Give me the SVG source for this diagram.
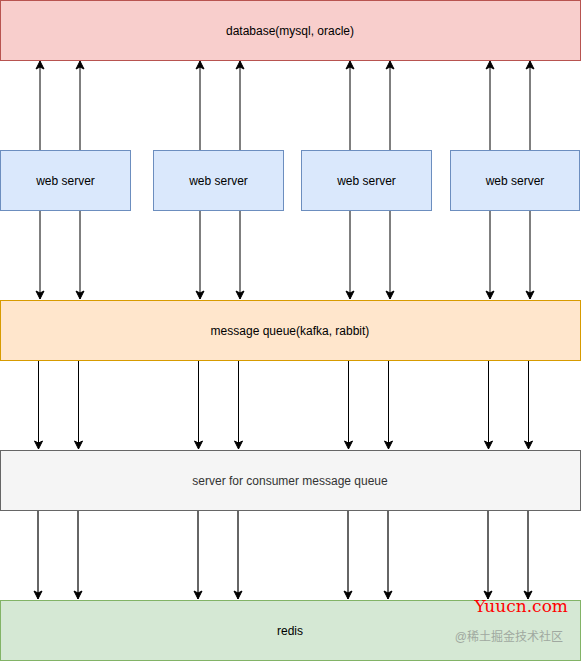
<svg xmlns="http://www.w3.org/2000/svg" width="581" height="661" viewBox="0 0 581 661">
<style>
.t{font-family:"Liberation Sans",Arial,sans-serif;font-size:12px;fill:#000;text-anchor:middle;dominant-baseline:central}
.c{fill:none;stroke:#000;stroke-width:1}
.g{fill:none;stroke:#666;stroke-width:2}
</style>
<defs>
<marker id="a" markerUnits="userSpaceOnUse" viewBox="-9 -5 10 10" refX="0" refY="0" markerWidth="10" markerHeight="10" orient="auto">
<path d="M0,0 L-8,-4 L-6,0 L-8,4 Z" fill="#000" stroke="#000" stroke-width="1" stroke-linejoin="miter"/>
</marker>
</defs>
<g id="connectors">
<g class="c" marker-end="url(#a)">
<path d="M40,150V61"/><path d="M80,150V61"/><path d="M200,150V61"/><path d="M240,150V61"/>
<path d="M350,150V61"/><path d="M390,150V61"/><path d="M490,150V61"/><path d="M530,150V61"/>
<path d="M40,210V299"/><path d="M80,210V299"/><path d="M200,210V299"/><path d="M240,210V299"/>
<path d="M350,210V299"/><path d="M390,210V299"/><path d="M490,210V299"/><path d="M530,210V299"/>
<path d="M38.5,360V449"/><path d="M78.5,360V449"/><path d="M198.5,360V449"/><path d="M238.5,360V449"/>
<path d="M348.5,360V449"/><path d="M388.5,360V449"/><path d="M488.5,360V449"/><path d="M528.5,360V449"/>
</g>
<g class="g" marker-end="url(#a)">
<path d="M38,510V599"/><path d="M78,510V599"/><path d="M198,510V599"/><path d="M238,510V599"/>
<path d="M348,510V599"/><path d="M388,510V599"/><path d="M488,510V599"/><path d="M528,510V599"/>
</g>
</g>
<g id="database">
<rect x="0.5" y="0.5" width="580" height="60" fill="#f8cecc" stroke="#b85450"/>
<text class="t" x="290" y="31">database(mysql, oracle)</text>
</g>
<g id="web1">
<rect x="0.5" y="150.5" width="130" height="60" fill="#dae8fc" stroke="#6c8ebf"/>
<text class="t" x="65.5" y="181">web server</text>
</g>
<g id="web2">
<rect x="153.5" y="150.5" width="130" height="60" fill="#dae8fc" stroke="#6c8ebf"/>
<text class="t" x="218.5" y="181">web server</text>
</g>
<g id="web3">
<rect x="301.5" y="150.5" width="130" height="60" fill="#dae8fc" stroke="#6c8ebf"/>
<text class="t" x="366.5" y="181">web server</text>
</g>
<g id="web4">
<rect x="450.5" y="150.5" width="129" height="60" fill="#dae8fc" stroke="#6c8ebf"/>
<text class="t" x="515" y="181">web server</text>
</g>
<g id="mq">
<rect x="0.5" y="300.5" width="580" height="60" fill="#ffe6cc" stroke="#d79b00"/>
<text class="t" x="290" y="331">message queue(kafka, rabbit)</text>
</g>
<g id="consumer">
<rect x="0.5" y="450.5" width="580" height="60" fill="#f5f5f5" stroke="#666666"/>
<text class="t" x="290" y="481" style="fill:#333">server for consumer message queue</text>
</g>
<g id="redis">
<rect x="0.5" y="600.5" width="580" height="60" fill="#d5e8d4" stroke="#82b366"/>
<text class="t" x="290" y="631">redis</text>
</g>
<text x="568" y="612" font-family="'DejaVu Serif',serif" font-size="17" fill="#ff0000" text-anchor="end">Yuucn.com</text>
<text x="563" y="641" font-family="'Liberation Sans','Noto Sans CJK SC',sans-serif" font-size="12" fill="#a0a8a0" text-anchor="end">@稀土掘金技术社区</text>
</svg>
